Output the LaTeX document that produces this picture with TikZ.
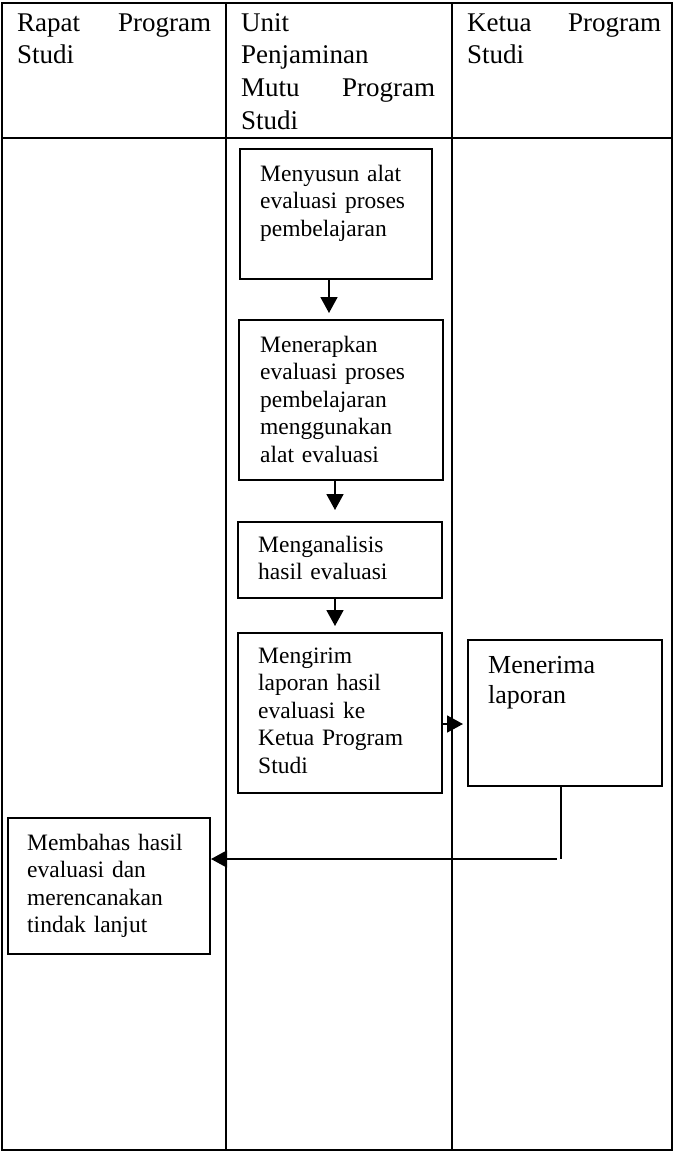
\documentclass[tikz,border=0pt]{standalone}
\usepackage{fontspec}
\setmainfont{Liberation Serif}
\usetikzlibrary{arrows.meta,calc}

\tikzset{
  grid/.style={line width=2.3pt},
  procbox/.style={draw, line width=2pt, rectangle, inner sep=0pt, anchor=north west},
  head/.style={anchor=base west, inner sep=0pt, text width=194pt, align=left,
               font=\fontsize{27}{32.8}\selectfont},
  boxtext/.style={anchor=base west, inner sep=0pt, text width=180pt, align=left,
               font=\fontsize{23.5}{27.5}\selectfont},
  bigtext/.style={anchor=base west, inner sep=0pt, text width=170pt, align=left,
               font=\fontsize{26}{30}\selectfont},
  arr/.style={line width=1.8pt, -{Triangle[length=16pt,width=17pt]}},
  link/.style={line width=1.8pt}
}

\begin{document}
\begin{tikzpicture}[x=1pt,y=-1pt]
\useasboundingbox (0,0) rectangle (674,1152);

% swimlane table
\draw[grid] (2,3) rectangle (672,1150);
\draw[grid] (2,138) -- (672,138);
\draw[grid] (226,3) -- (226,1150);
\draw[grid] (452,3) -- (452,1150);

% lane headings
\node[head] (h1) at (17,31) {Rapat\hfill Program\\Studi};
\node[head] (h2) at (241,31) {Unit\\Penjaminan\\Mutu\hfill Program\\Studi};
\node[head] (h3) at (467,31) {Ketua\hfill Program\\Studi};

% process boxes
\node[procbox, minimum width=192pt, minimum height=130pt] (b1) at (239,148) {};
\node[boxtext] (t1) at (260,181) {Menyusun alat\\evaluasi proses\\pembelajaran};

\node[procbox, minimum width=204pt, minimum height=160pt] (b2) at (238,319) {};
\node[boxtext] (t2) at (260,352) {Menerapkan\\evaluasi proses\\pembelajaran\\menggunakan\\alat evaluasi};

\node[procbox, minimum width=204pt, minimum height=76pt] (b3) at (237,521) {};
\node[boxtext] (t3) at (258,552) {Menganalisis\\hasil evaluasi};

\node[procbox, minimum width=204pt, minimum height=160pt] (b4) at (237,632) {};
\node[boxtext] (t4) at (258,663) {Mengirim\\laporan hasil\\evaluasi ke\\Ketua Program\\Studi};

\node[procbox, minimum width=194pt, minimum height=146pt] (b5) at (467,639) {};
\node[bigtext] (t5) at (488,673) {Menerima\\laporan};

\node[procbox, minimum width=202pt, minimum height=136pt] (b6) at (7,817) {};
\node[boxtext] (t6) at (27,850) {Membahas hasil\\evaluasi dan\\merencanakan\\tindak lanjut};

% flow
\draw[arr, shorten >=6pt] ([xshift=-7pt]b1.south) -- ([xshift=-7pt]b1.south |- b2.north);
\draw[arr, shorten >=11pt] ([xshift=-6pt]b2.south) -- ([xshift=-6pt]b2.south |- b3.north);
\draw[arr, shorten >=6pt] ([xshift=-5pt]b3.south) -- ([xshift=-5pt]b3.south |- b4.north);
\draw[arr, shorten >=4pt] ([yshift=-11pt]b4.east) -- ([yshift=-11pt]b4.east -| b5.west);

\coordinate (bend) at (561,859);
\draw[link] (b5.south -| bend) -- (bend);
\draw[arr] ([xshift=-4pt]bend) -- (bend -| b6.east);
\end{tikzpicture}
\end{document}
